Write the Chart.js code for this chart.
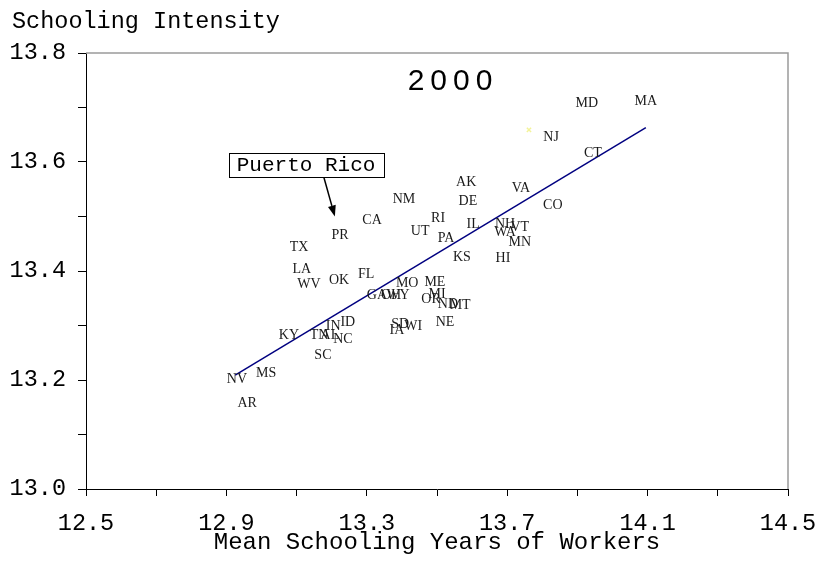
<!DOCTYPE html>
<html>
<head>
<meta charset="utf-8">
<script src="https://cdn.jsdelivr.net/npm/chart.js@4.4.1/dist/chart.umd.min.js"></script>
<style>
html, body { margin: 0; padding: 0; background: #fff; }
#wrap { width: 819px; height: 564px; position: relative; }
</style>
</head>
<body>
<div id="wrap"><canvas id="chartCanvas"></canvas></div>
<script>
// state labels
const states = ['MA','MD','NJ','CT','AK','VA','DE','CO','NM','CA','RI','IL','NH','VT','WA','UT','PR','PA','MN','TX','KS','HI','LA','FL','OK','WV','MO','ME','GA','OH','WY','MI','OR','ND','MT','NE','SD','WI','IA','ID','IN','KY','TN','AL','NC','SC','NV','MS','AR'];
const meanSchooling = [14.095,13.927,13.825,13.944,13.583,13.739,13.588,13.830,13.406,13.315,13.503,13.603,13.694,13.736,13.694,13.452,13.224,13.526,13.736,13.107,13.571,13.688,13.115,13.298,13.221,13.135,13.415,13.494,13.329,13.369,13.389,13.500,13.483,13.531,13.566,13.523,13.395,13.432,13.386,13.246,13.204,13.078,13.164,13.195,13.232,13.175,12.930,13.013,12.959];
const schoolingIntensity = [13.711,13.707,13.645,13.615,13.562,13.551,13.527,13.520,13.531,13.493,13.496,13.485,13.485,13.480,13.471,13.473,13.465,13.460,13.452,13.443,13.425,13.423,13.403,13.394,13.383,13.375,13.377,13.379,13.355,13.355,13.355,13.357,13.348,13.339,13.337,13.306,13.302,13.299,13.291,13.306,13.299,13.282,13.282,13.282,13.275,13.245,13.201,13.212,13.158];

// fitted line end points and the faint yellow marker
const fitX = [12.925, 14.095];
const fitY = [13.209, 13.663];
const strayX = [13.762];
const strayY = [13.659];

// tick labels
const xTickLabels = ['12.5', '12.9', '13.3', '13.7', '14.1', '14.5'];
const yTickLabels = ['13.0', '13.2', '13.4', '13.6', '13.8'];

// note box and arrow (data units)
const noteText = 'Puerto Rico';
const noteAt = [13.127, 13.595];
const arrowFrom = [13.178, 13.571];
const arrowTo = [13.209, 13.500];

const monoFont = '"Courier New", "Liberation Mono", monospace';

const stateLabels = {
	id: 'stateLabels',
	afterDatasetsDraw(chart) {
		const ctx = chart.ctx;
		const meta = chart.getDatasetMeta(0);
		ctx.save();
		ctx.font = '14px "Liberation Serif", "Times New Roman", serif';
		ctx.fillStyle = '#1a1a1a';
		ctx.textAlign = 'center';
		ctx.textBaseline = 'middle';
		meta.data.forEach((pt, i) => ctx.fillText(states[i], pt.x, pt.y));
		ctx.restore();
	}
};

const frame = {
	id: 'frame',
	beforeDatasetsDraw(chart) {
		const { ctx, chartArea: a } = chart;
		ctx.save();
		ctx.strokeStyle = '#9a9a9a';
		ctx.lineWidth = 1.5;
		ctx.beginPath();
		ctx.moveTo(a.left, a.top);
		ctx.lineTo(a.right, a.top);
		ctx.lineTo(a.right, a.bottom);
		ctx.stroke();
		ctx.restore();
	}
};

const extras = {
	id: 'extras',
	afterDraw(chart) {
		const ctx = chart.ctx;
		const xs = chart.scales.x, ys = chart.scales.y;
		const a = chart.chartArea;
		ctx.save();

		// y axis title, top left
		ctx.fillStyle = '#000';
		ctx.font = '23.5px ' + monoFont;
		ctx.textAlign = 'left';
		ctx.textBaseline = 'alphabetic';
		ctx.fillText('Schooling Intensity', 12, 28);

		// year inside the plot, spaced digits
		ctx.font = '30px "Liberation Sans", Arial, sans-serif';
		const year = '2000';
		const gap = 6;
		let w = 0;
		for (const ch of year) w += ctx.measureText(ch).width + gap;
		w -= gap;
		let cx = (a.left + a.right) / 2 + 13 - w / 2;
		for (const ch of year) {
			ctx.fillText(ch, cx, 90);
			cx += ctx.measureText(ch).width + gap;
		}

		// note box
		ctx.font = '21px ' + monoFont;
		const tw = ctx.measureText(noteText).width;
		const bx = xs.getPixelForValue(noteAt[0]);
		const by = ys.getPixelForValue(noteAt[1]);
		const bw = tw + 16, bh = 24;
		ctx.fillStyle = '#fff';
		ctx.fillRect(bx - bw / 2, by - bh / 2, bw, bh);
		ctx.strokeStyle = '#000';
		ctx.lineWidth = 1;
		ctx.strokeRect(Math.round(bx - bw / 2) + 0.5, Math.round(by - bh / 2) + 0.5, Math.round(bw), bh);
		ctx.fillStyle = '#000';
		ctx.textAlign = 'center';
		ctx.textBaseline = 'middle';
		ctx.fillText(noteText, bx, by + 1);

		// arrow
		const x1 = xs.getPixelForValue(arrowFrom[0]), y1 = ys.getPixelForValue(arrowFrom[1]);
		const x2 = xs.getPixelForValue(arrowTo[0]), y2 = ys.getPixelForValue(arrowTo[1]);
		const ang = Math.atan2(y2 - y1, x2 - x1);
		const hl = 11, hw = 4;
		ctx.lineWidth = 1.5;
		ctx.beginPath();
		ctx.moveTo(x1, y1);
		ctx.lineTo(x2 - hl * Math.cos(ang), y2 - hl * Math.sin(ang));
		ctx.stroke();
		ctx.beginPath();
		ctx.moveTo(x2, y2);
		ctx.lineTo(x2 - hl * Math.cos(ang) + hw * Math.sin(ang), y2 - hl * Math.sin(ang) - hw * Math.cos(ang));
		ctx.lineTo(x2 - hl * Math.cos(ang) - hw * Math.sin(ang), y2 - hl * Math.sin(ang) + hw * Math.cos(ang));
		ctx.closePath();
		ctx.fill();
		ctx.restore();
	}
};

const ctx = document.getElementById('chartCanvas').getContext('2d');
const chart = new Chart(ctx, {
	type: 'scatter',
	data: {
		datasets: [
			{
				label: 'States',
				data: states.map((s, i) => ({ x: meanSchooling[i], y: schoolingIntensity[i] })),
				pointRadius: 0,
				pointHoverRadius: 0
			},
			{
				label: 'Fit',
				data: fitX.map((x, i) => ({ x, y: fitY[i] })),
				showLine: true,
				borderColor: '#000080',
				borderWidth: 1.5,
				pointRadius: 0
			},
			{
				label: 'Mark',
				data: strayX.map((x, i) => ({ x, y: strayY[i] })),
				pointStyle: 'crossRot',
				pointRadius: 3,
				borderColor: '#f3f39a',
				borderWidth: 1.5
			}
		]
	},
	options: {
		responsive: true,
		maintainAspectRatio: false,
		animation: false,
		events: [],
		layout: { padding: { top: 53, right: 31, left: 0, bottom: 0 } },
		plugins: {
			legend: { display: false },
			tooltip: { enabled: false }
		},
		scales: {
			x: {
				type: 'linear',
				min: 12.5,
				max: 14.5,
				afterFit: (s) => { s.height = 75; s.paddingLeft = 0; s.paddingRight = 0; },
				ticks: {
					stepSize: 0.2,
					autoSkip: false,
					maxRotation: 0,
					padding: 14,
					color: '#000',
					font: { family: monoFont, size: 23.5 },
					callback: (v) => xTickLabels.includes(v.toFixed(1)) ? v.toFixed(1) : ''
				},
				grid: { drawOnChartArea: false, color: '#000', tickLength: 7 },
				border: { color: '#000', width: 1 },
				title: {
					display: true,
					text: 'Mean Schooling Years of Workers',
					color: '#000',
					font: { family: monoFont, size: 24 },
					padding: { top: 0, bottom: 7 }
				}
			},
			y: {
				type: 'linear',
				min: 13.0,
				max: 13.8,
				afterFit: (s) => { s.width = 86; s.paddingTop = 0; s.paddingBottom = 0; },
				ticks: {
					stepSize: 0.1,
					autoSkip: false,
					padding: 12,
					color: '#000',
					font: { family: monoFont, size: 23.5 },
					callback: (v) => yTickLabels.includes(v.toFixed(1)) ? v.toFixed(1) : ''
				},
				grid: { drawOnChartArea: false, color: '#000', tickLength: 8 },
				border: { color: '#000', width: 1 }
			}
		}
	},
	plugins: [frame, stateLabels, extras]
});
</script>
</body>
</html>
